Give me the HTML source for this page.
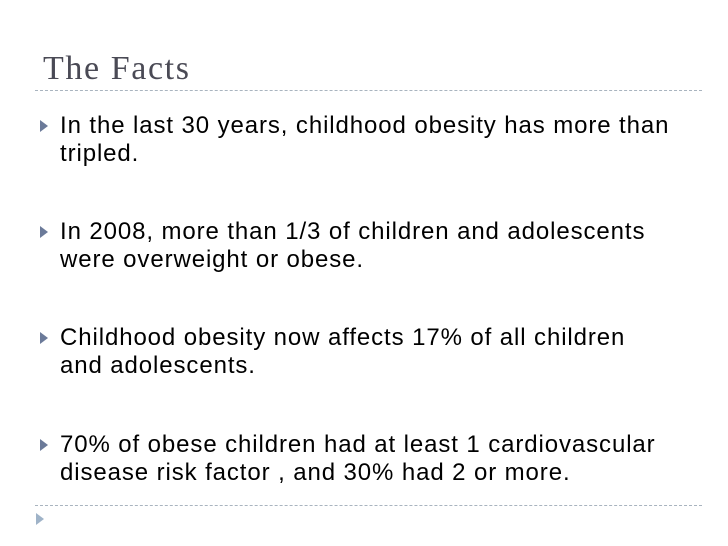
<!DOCTYPE html>
<html><head><meta charset="utf-8"><style>
body{margin:0;width:728px;height:546px;background:#fff;position:relative;overflow:hidden;font-family:"Liberation Sans",sans-serif}
.title{position:absolute;left:43px;top:50px;font-family:"Liberation Serif",serif;font-size:34px;line-height:38px;color:#4a4a55;letter-spacing:1.6px}
.rule{position:absolute;left:35px;width:667px;border-top:1px dashed #a9b4bf}
.b{position:absolute;left:60px;font-size:24px;line-height:28px;color:#000;width:668px;letter-spacing:0.9px;white-space:nowrap}
.arr{position:absolute;left:40px;width:0;height:0;border-top:6px solid transparent;border-bottom:6px solid transparent;border-left:8px solid #6b7a99}
</style></head><body>
<div class="title">The Facts</div>
<div class="rule" style="top:90px"></div>
<div class="arr" style="top:120px"></div>
<div class="b" style="top:112px">In the last 30 years, childhood obesity has more than<br>tripled.</div>
<div class="arr" style="top:226px"></div>
<div class="b" style="top:218px">In 2008, more than 1/3 of children and adolescents<br>were overweight or obese.</div>
<div class="arr" style="top:332px"></div>
<div class="b" style="top:324px">Childhood obesity now affects 17% of all children<br>and adolescents.</div>
<div class="arr" style="top:439px"></div>
<div class="b" style="top:431px">70% of obese children had at least 1 cardiovascular<br>disease risk factor , and 30% had 2 or more.</div>
<div class="rule" style="top:505px"></div>
<div class="arr" style="top:513px;left:36px;border-left-color:#9fb3c8"></div>
</body></html>
